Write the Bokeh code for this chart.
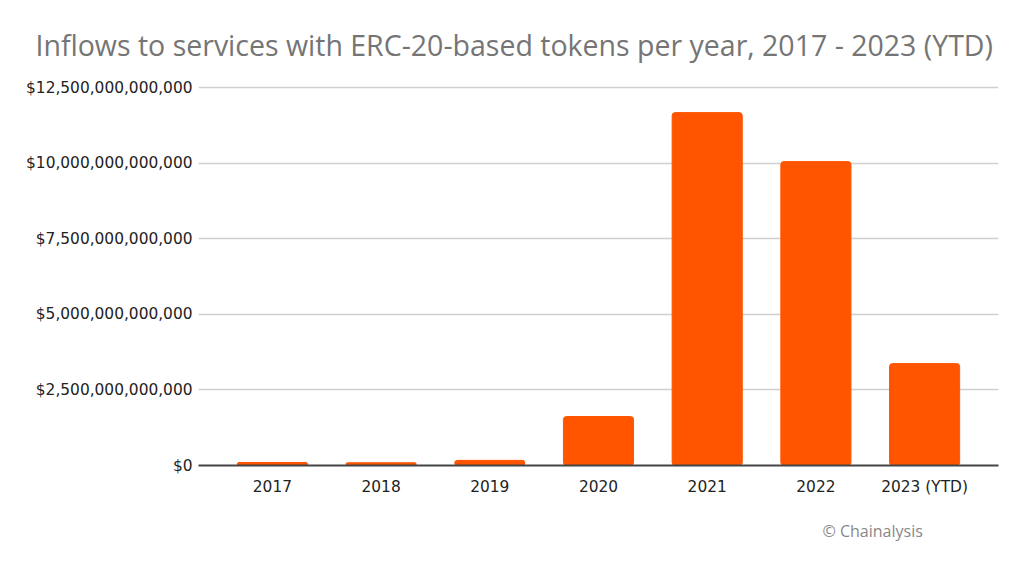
from bokeh.plotting import figure
from bokeh.models import FactorRange, Range1d, NumeralTickFormatter, Title
from bokeh.embed import file_html
from bokeh.resources import INLINE

years = ["2017", "2018", "2019", "2020", "2021", "2022", "2023 (YTD)"]
inflows = [0.10e12, 0.09e12, 0.17e12, 1.62e12, 11.67e12, 10.05e12, 3.37e12]
y_ticks = [0, 2.5e12, 5e12, 7.5e12, 10e12, 12.5e12]

FL = 198

p = figure(width=1008, height=560, output_backend="svg", toolbar_location=None,
           x_range=FactorRange(factors=years, range_padding=0.18, range_padding_units="absolute"),
           y_range=Range1d(0, 12.6e12),
           min_border_left=FL, min_border_right=10, min_border_top=84, min_border_bottom=95)

p.vbar(x=years, top=inflows, width=0.645, color="#FF5500", border_radius=3)

p.outline_line_color = None
p.xgrid.grid_line_color = None
p.ygrid.grid_line_color = "#d0d0d0"
p.ygrid.grid_line_width = 1.5
p.yaxis.ticker = y_ticks
p.yaxis.formatter = NumeralTickFormatter(format="$0,0")
p.yaxis.axis_line_color = None
p.yaxis.major_tick_line_color = None
p.yaxis.major_tick_out = 0
p.yaxis.minor_tick_line_color = None
p.yaxis.major_label_text_font = "DejaVu Sans"
p.yaxis.major_label_text_font_size = "15.4px"
p.yaxis.major_label_text_color = "#222222"
p.yaxis.major_label_standoff = 6

p.xaxis.axis_line_color = "#444444"
p.xaxis.axis_line_width = 2
p.xaxis.major_tick_line_color = None
p.xaxis.major_tick_out = 0
p.xaxis.minor_tick_line_color = None
p.xaxis.major_label_text_font = "DejaVu Sans"
p.xaxis.major_label_text_font_size = "15.4px"
p.xaxis.major_label_text_color = "#222222"
p.xaxis.major_label_standoff = 12

p.title.text = "Inflows to services with ERC-20-based tokens per year, 2017 - 2023 (YTD)"
p.title.align = "left"
p.title.offset = 35 - FL
p.title.standoff = 42
p.title.text_font = "Open Sans"
p.title.text_font_size = "28.5px"
p.title.text_font_style = "normal"
p.title.text_color = "#757575"

credit = Title(text="© Chainalysis", align="left", offset=822 - FL, standoff=38,
               text_font="Open Sans", text_font_size="16px", text_font_style="normal",
               text_color="#888888")
p.add_layout(credit, "below")

open("out.html", "w").write(file_html(p, INLINE))
